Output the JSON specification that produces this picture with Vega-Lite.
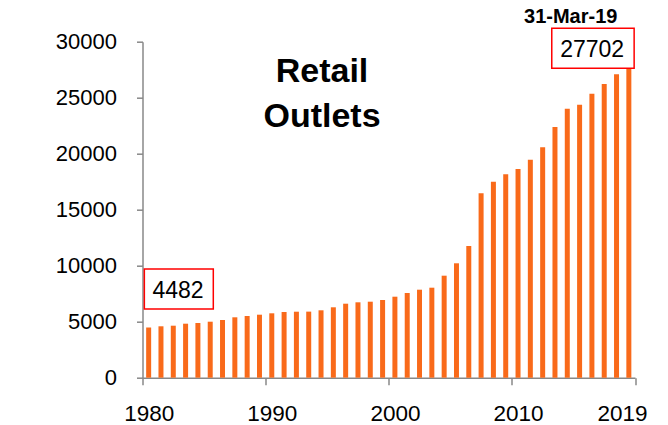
{
  "$schema": "https://vega.github.io/schema/vega-lite/v6.json",
  "width": 492.5,
  "height": 336,
  "autosize": "none",
  "padding": {"left": 142.5, "top": 41.7, "right": 33, "bottom": 47.3},
  "background": "white",
  "config": {"view": {"stroke": null}, "axis": {"grid": false}},
  "datasets": {
    "outlets": [
      {"year": 1980, "outlets": 4482}, {"year": 1981, "outlets": 4590}, {"year": 1982, "outlets": 4643},
      {"year": 1983, "outlets": 4822}, {"year": 1984, "outlets": 4884}, {"year": 1985, "outlets": 5000},
      {"year": 1986, "outlets": 5152}, {"year": 1987, "outlets": 5393}, {"year": 1988, "outlets": 5509},
      {"year": 1989, "outlets": 5625}, {"year": 1990, "outlets": 5750}, {"year": 1991, "outlets": 5866},
      {"year": 1992, "outlets": 5893}, {"year": 1993, "outlets": 5900}, {"year": 1994, "outlets": 6018},
      {"year": 1995, "outlets": 6286}, {"year": 1996, "outlets": 6607}, {"year": 1997, "outlets": 6732},
      {"year": 1998, "outlets": 6786}, {"year": 1999, "outlets": 6938}, {"year": 2000, "outlets": 7232},
      {"year": 2001, "outlets": 7563}, {"year": 2002, "outlets": 7857}, {"year": 2003, "outlets": 8036},
      {"year": 2004, "outlets": 9108}, {"year": 2005, "outlets": 10215}, {"year": 2006, "outlets": 11759},
      {"year": 2007, "outlets": 16465}, {"year": 2008, "outlets": 17501}, {"year": 2009, "outlets": 18162},
      {"year": 2010, "outlets": 18635}, {"year": 2011, "outlets": 19465}, {"year": 2012, "outlets": 20572},
      {"year": 2013, "outlets": 22385}, {"year": 2014, "outlets": 24019}, {"year": 2015, "outlets": 24376},
      {"year": 2016, "outlets": 25358}, {"year": 2017, "outlets": 26224}, {"year": 2018, "outlets": 27090},
      {"year": 2019, "outlets": 27702}
    ],
    "boxes": [
      {"x1": 1979.65, "x2": 1985.25, "y1": 9705, "y2": 6134},
      {"x1": 2012.74, "x2": 2019.43, "y1": 31198, "y2": 27626}
    ],
    "values": [
      {"x": 1982.38, "y": 7090, "label": "4482"},
      {"x": 2016.02, "y": 28608, "label": "27702"}
    ],
    "titles": [
      {"x": 1994.08, "y": 26376, "label": "Retail"},
      {"x": 1994.08, "y": 22412, "label": "Outlets"}
    ],
    "date": [
      {"x": 2014.28, "y": 31698, "label": "31-Mar-19"}
    ]
  },
  "layer": [
    {
      "data": {"name": "outlets"},
      "mark": {"type": "bar", "color": "#F96A1A", "width": 5},
      "encoding": {
        "x": {
          "field": "year", "type": "quantitative", "title": null,
          "scale": {"domain": [1979.5, 2019.5], "nice": false, "zero": false, "padding": 0},
          "axis": {
            "values": [1979.5, 1989.5, 1999.5, 2009.5, 2019.5],
            "labelExpr": "datum.value > 2019 ? '2019' : format(datum.value + 0.5, 'd')",
            "labelOffset": {"condition": {"test": "datum.value > 2019", "value": -13}, "value": 6.2},
            "labelFlush": false,
            "labelOverlap": false,
            "labelFont": "Liberation Sans",
            "labelFontSize": 22.5,
            "labelColor": "#000000",
            "labelPadding": 18,
            "tickSize": 7,
            "tickColor": "#888888",
            "domainColor": "#888888",
            "domainWidth": 1.5,
            "tickWidth": 1.5
          }
        },
        "y": {
          "field": "outlets", "type": "quantitative", "title": null,
          "scale": {"domain": [0, 30000], "nice": false, "padding": 0},
          "axis": {
            "values": [0, 5000, 10000, 15000, 20000, 25000, 30000],
            "format": "d",
            "labelFont": "Liberation Sans",
            "labelFontSize": 22,
            "labelColor": "#000000",
            "labelPadding": 20,
            "tickSize": 6,
            "tickColor": "#888888",
            "domainColor": "#888888",
            "domainWidth": 1.5,
            "tickWidth": 1.5
          }
        }
      }
    },
    {
      "data": {"name": "boxes"},
      "mark": {"type": "rect", "fill": "white", "stroke": "#FF0000", "strokeWidth": 1.5},
      "encoding": {
        "x": {"field": "x1", "type": "quantitative", "title": null},
        "x2": {"field": "x2"},
        "y": {"field": "y1", "type": "quantitative", "title": null},
        "y2": {"field": "y2"}
      }
    },
    {
      "data": {"name": "values"},
      "mark": {"type": "text", "font": "Liberation Sans", "fontSize": 23, "color": "#000000", "align": "center", "baseline": "alphabetic"},
      "encoding": {
        "x": {"field": "x", "type": "quantitative", "title": null},
        "y": {"field": "y", "type": "quantitative", "title": null},
        "text": {"field": "label"}
      }
    },
    {
      "data": {"name": "titles"},
      "mark": {"type": "text", "font": "Liberation Sans", "fontSize": 34, "fontWeight": "bold", "color": "#000000", "align": "center", "baseline": "alphabetic"},
      "encoding": {
        "x": {"field": "x", "type": "quantitative", "title": null},
        "y": {"field": "y", "type": "quantitative", "title": null},
        "text": {"field": "label"}
      }
    },
    {
      "data": {"name": "date"},
      "mark": {"type": "text", "font": "Liberation Sans", "fontSize": 20, "fontWeight": "bold", "color": "#000000", "align": "center", "baseline": "alphabetic"},
      "encoding": {
        "x": {"field": "x", "type": "quantitative", "title": null},
        "y": {"field": "y", "type": "quantitative", "title": null},
        "text": {"field": "label"}
      }
    }
  ]
}
